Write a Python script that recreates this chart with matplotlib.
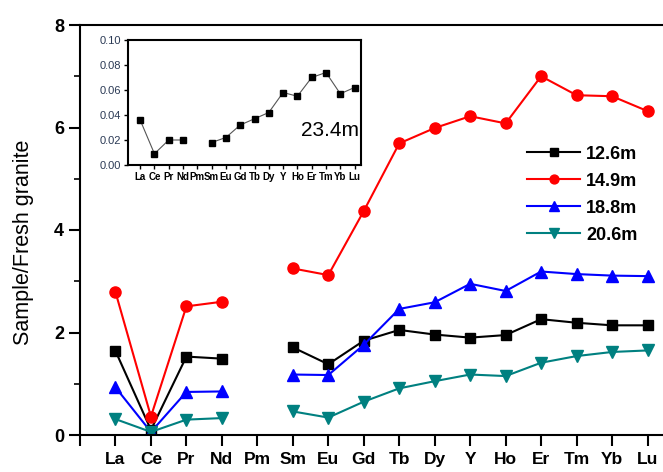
import numpy as np
import matplotlib
matplotlib.use("Agg")
import matplotlib.pyplot as plt

plt.rcParams['font.family'] = ['Liberation Sans', 'DejaVu Sans']

# REE labels (Pm has no data -> gap)
elements = ["La", "Ce", "Pr", "Nd", "Pm", "Sm", "Eu", "Gd", "Tb", "Dy",
            "Y", "Ho", "Er", "Tm", "Yb", "Lu"]
nan = np.nan

d12_6 = [1.64, 0.10, 1.53, 1.49, nan, 1.71, 1.38, 1.84, 2.05, 1.96,
         1.90, 1.95, 2.26, 2.19, 2.14, 2.14]
d14_9 = [2.79, 0.36, 2.51, 2.60, nan, 3.25, 3.12, 4.37, 5.69, 5.99,
         6.22, 6.08, 7.00, 6.63, 6.61, 6.32]
d18_8 = [0.93, 0.06, 0.84, 0.85, nan, 1.18, 1.17, 1.76, 2.46, 2.59,
         2.95, 2.81, 3.19, 3.14, 3.11, 3.10]
d20_6 = [0.31, 0.06, 0.30, 0.33, nan, 0.46, 0.34, 0.65, 0.91, 1.05,
         1.18, 1.15, 1.41, 1.54, 1.62, 1.65]
d23_4 = [0.036, 0.009, 0.020, 0.020, nan, 0.018, 0.022, 0.032, 0.037, 0.042,
         0.058, 0.055, 0.070, 0.074, 0.057, 0.062]

series = [("12.6m", d12_6, "black", "s", 7),
          ("14.9m", d14_9, "#ff0000", "o", 8),
          ("18.8m", d18_8, "#0000ff", "^", 8.5),
          ("20.6m", d20_6, "#008080", "v", 8.5)]

x = np.arange(1, len(elements) + 1)

fig = plt.figure(figsize=(6.63, 4.72), dpi=100)
ax = fig.add_axes([80 / 663, 37 / 472, 603 / 663, 410 / 472])

for name, vals, col, mk, ms in series:
    ax.plot(x, vals, color=col, marker=mk, markersize=ms, lw=1.5, label=name)

ax.set_xlim(0, 17)
ax.set_ylim(0, 8)
ax.set_xticks(np.arange(0, 18))
ax.set_xticklabels([""] + elements + [""], fontsize=12.5, fontweight="bold")
ax.set_yticks([0, 2, 4, 6, 8])
ax.set_yticks([1, 3, 5, 7], minor=True)
ax.set_yticklabels(["0", "2", "4", "6", "8"], fontsize=13, fontweight="bold")
ax.tick_params(axis="both", which="major", direction="out", length=8, width=1.5)
ax.tick_params(axis="y", which="minor", direction="out", length=4, width=1.2)
ax.tick_params(axis="x", pad=4)
for sp in ax.spines.values():
    sp.set_linewidth(1.5)
ax.set_ylabel("Sample/Fresh granite", fontsize=15.5)
ax.yaxis.set_label_coords(-0.076, 0.47)

leg = ax.legend(loc="upper left", bbox_to_anchor=(0.715, 0.745), frameon=False,
                prop={"size": 13, "weight": "bold"}, handlelength=2.9,
                handletextpad=0.35, labelspacing=0.55, markerscale=0.8)

# inset (23.4m)
ins = fig.add_axes([128 / 663, (472 - 165) / 472, 233 / 663, 125 / 472])
ins.plot(x, d23_4, color="#555555", lw=0.8, marker="s", markersize=5,
         markerfacecolor="black", markeredgecolor="black")
ins.set_xlim(0.15, 16.45)
ins.set_ylim(0, 0.10)
ins.set_yticks([0, 0.02, 0.04, 0.06, 0.08, 0.10])
ins.set_yticklabels(["0.00", "0.02", "0.04", "0.06", "0.08", "0.10"],
                    fontsize=8, color="#2b3a55")
ins.set_xticks(x)
ins.set_xticklabels(elements, fontsize=7, fontweight="bold")
ins.tick_params(axis="both", direction="out", length=3, width=1, pad=2)
for sp in ins.spines.values():
    sp.set_linewidth(1.5)
ins.text(0.99, 0.28, "23.4m", transform=ins.transAxes, ha="right",
         va="center", fontsize=15)

fig.savefig("out.png", dpi=100)
